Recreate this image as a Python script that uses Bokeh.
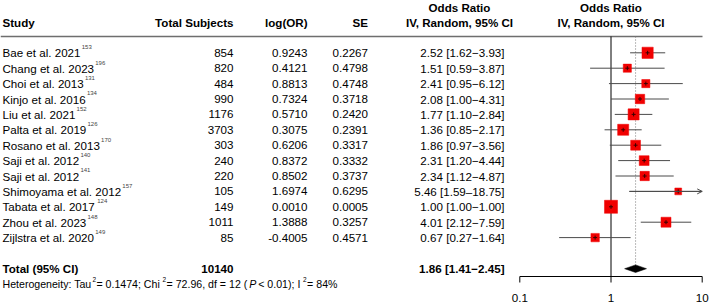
import numpy as np
from bokeh.plotting import figure
from bokeh.models import Range1d, LogScale, ColumnDataSource, Arrow, OpenHead
from bokeh.core.properties import value
from bokeh.embed import file_html
from bokeh.resources import INLINE

# ---------------- data ----------------
studies = ["Bae et al. 2021", "Chang et al. 2023", "Choi et al. 2013", "Kinjo et al. 2016",
           "Liu et al. 2021", "Palta et al. 2019", "Rosano et al. 2013", "Saji et al. 2012",
           "Saji et al. 2012", "Shimoyama et al. 2012", "Tabata et al. 2017", "Zhou et al. 2023",
           "Zijlstra et al. 2020"]
refs = ["153", "196", "131", "134", "152", "126", "170", "140", "141", "157", "124", "148", "149"]
subjects = [854, 820, 484, 990, 1176, 3703, 303, 240, 220, 105, 149, 1011, 85]
log_or = [0.9243, 0.4121, 0.8813, 0.7324, 0.5710, 0.3075, 0.6206, 0.8372, 0.8502, 1.6974,
          0.0010, 1.3888, -0.4005]
se = [0.2267, 0.4798, 0.4748, 0.3718, 0.2420, 0.2391, 0.3317, 0.3332, 0.3737, 0.6295,
      0.0005, 0.3257, 0.4571]
odds = [2.52, 1.51, 2.41, 2.08, 1.77, 1.36, 1.86, 2.31, 2.34, 5.46, 1.00, 4.01, 0.67]
ci_lo = [1.62, 0.59, 0.95, 1.00, 1.10, 0.85, 0.97, 1.20, 1.12, 1.59, 1.00, 2.12, 0.27]
ci_hi = [3.93, 3.87, 6.12, 4.31, 2.84, 2.17, 3.56, 4.44, 4.87, 18.75, 1.00, 7.59, 1.64]
weights = [10.0, 5.3, 5.3, 7.0, 9.7, 9.7, 7.7, 7.7, 6.9, 3.7, 13.5, 7.9, 5.6]

total_label = "Total (95% CI)"
total_n = 10140
total_or, total_lo, total_hi = 1.86, 1.41, 2.45
tau2, chi2, df_het, p_text, i2 = 0.1474, 72.96, 12, "< 0.01", 84

axis_ticks = [0.1, 1, 10]
tick_labels = ["0.1", "1", "10"]
null_value = 1

headers = ["Study", "Total Subjects", "log(OR)", "SE"]
or_header = ["Odds Ratio", "IV, Random, 95% CI"]

# ---------------- layout ----------------
W, H = 709, 303
FONT = value("Liberation Sans")
FS = "11.6px"
FSB = "11.6px"
X01, X10 = 519.3, 701.7                      # pixel positions of 0.1 and 10
PPD = (X10 - X01) / 2.0                       # pixels per decade
lo_log = np.log10(axis_ticks[0]) - X01 / PPD
hi_log = np.log10(axis_ticks[-1]) + (W - X10) / PPD

ROW0, PITCH = 52.3, 15.4
n = len(studies)
ys = ROW0 + PITCH * np.arange(n)
y_head1, y_head2, y_line = 6.8, 22.3, 36.0
y_total, y_het = 268.2, 283.4
y_axis, y_tick_end, y_ticklab = 276.0, 282.0, 297.6

# Arial / Liberation Sans advance widths (1/1000 em)
AW = {' ': 278, '%': 889, '(': 333, ')': 333, ',': 278, '-': 333, '.': 278, ':': 278, ';': 278,
      '<': 584, '=': 584, '>': 584, '[': 278, ']': 278}
for c in "0123456789":
    AW[c] = 556
for c, w in zip("ABCDEFGHIJKLMNOPQRSTUVWXYZ",
                [667, 667, 722, 722, 667, 611, 778, 722, 278, 500, 667, 556, 833, 722, 778, 667,
                 778, 722, 667, 611, 722, 667, 944, 667, 667, 611]):
    AW[c] = w
for c, w in zip("abcdefghijklmnopqrstuvwxyz",
                [556, 556, 500, 556, 556, 278, 556, 556, 222, 222, 500, 222, 833, 556, 556, 556,
                 556, 333, 500, 278, 556, 500, 722, 500, 500, 500]):
    AW[c] = w


def tw(s, px):
    return sum(AW.get(c, 556) for c in s) * px / 1000.0


p = figure(width=W, height=H, x_range=Range1d(0, W), y_range=Range1d(H, 0),
           output_backend="svg", toolbar_location=None, min_border=0,
           x_axis_location=None, y_axis_location=None)
p.extra_x_ranges = {"or": Range1d(10 ** lo_log, 10 ** hi_log)}
p.extra_x_scales = {"or": LogScale()}
p.grid.visible = False
p.outline_line_color = None
p.background_fill_color = "white"
p.border_fill_color = "white"


def txt(xs, yv, texts, align="left", bold=False, size=FS, color="black", italic=False, **kw):
    style = "bold" if bold else ("italic" if italic else "normal")
    src = ColumnDataSource(dict(x=list(xs), y=list(yv), t=list(texts)))
    p.text(x="x", y="y", text="t", source=src, text_font=FONT, text_font_size=size,
           text_font_style=style, text_align=align, text_baseline="middle",
           text_color=color, **kw)


# header
txt([2], [y_head2], [headers[0]], bold=True, size=FSB)
txt([233, 307, 367.5], [y_head2] * 3, headers[1:], align="right", bold=True, size=FSB)
txt([459, 459], [y_head1, y_head2], or_header, align="center", bold=True, size=FSB)
txt([610.5, 610.5], [y_head1, y_head2], or_header, align="center", bold=True, size=FSB)
p.segment(x0=[0], x1=[702], y0=[y_line], y1=[y_line], line_color="#6e6e6e", line_width=1.6)

# study rows
txt([2] * n, ys, studies)
sup_x = [2 + tw(s, 11.6) + 1.2 for s in studies]
txt(sup_x, ys - 5.6, refs, size="6px", color="#444444")
txt([233] * n, ys, [str(v) for v in subjects], align="right")
txt([307] * n, ys, [f"{v:.4f}" for v in log_or], align="right")
txt([367.5] * n, ys, [f"{v:.4f}" for v in se], align="right")
ci_txt = [f"{o:.2f} [{l:.2f}{'\u2212' if h < 10 else '\u2013'}{h:.2f}]"
          for o, l, h in zip(odds, ci_lo, ci_hi)]
txt([504] * n, ys, ci_txt, align="right")

# total row
txt([2], [y_total], [total_label], bold=True, size=FSB)
txt([233], [y_total], [str(total_n)], align="right", bold=True, size=FSB)
txt([504], [y_total], [f"{total_or:.2f} [{total_lo:.2f}\u2212{total_hi:.2f}]"], align="right",
    bold=True, size=FSB)

# heterogeneity line built from pieces
HP = 10.6
pieces = [("Heterogeneity: Tau", "n"), ("2", "s"), (f" = {tau2:.4f}; Chi", "n"), ("2", "s"),
          (f" = {chi2:.2f}, df = {df_het} (", "n"), ("P", "i"), (f" {p_text}); I", "n"),
          ("2", "s"), (f" = {i2}%", "n")]
cx = 2.0
for s, kind in pieces:
    if kind == "s":
        txt([cx - 0.2], [y_het - 4.4], [s], size="6.5px")
        cx += tw(s, 6.5) + 0.2
    elif kind == "i":
        txt([cx - 0.9], [y_het], [s], size=f"{HP}px", italic=True)
        cx += tw(s, HP) + 0.9
    else:
        txt([cx], [y_het], [s], size=f"{HP}px")
        cx += tw(s, HP)

# forest plot
axis_max = axis_ticks[-1]
seg_hi = [min(h, axis_max) for h in ci_hi]
p.segment(x0=[null_value], x1=[null_value], y0=[y_line], y1=[y_axis], x_range_name="or",
          line_color="black", line_width=1)
p.segment(x0=[total_or], x1=[total_or], y0=[y_line], y1=[y_total], x_range_name="or",
          line_color="#777777", line_width=1, line_dash="1 2")
p.segment(x0=ci_lo, x1=seg_hi, y0=ys, y1=ys, x_range_name="or", line_color="#4a4a4a",
          line_width=1)
for l, h, y in zip(ci_lo, ci_hi, ys):
    if h > axis_max:
        p.add_layout(Arrow(x_start=l, x_end=axis_max, y_start=y, y_end=y, x_range_name="or",
                           line_color="#4a4a4a", line_width=1,
                           end=OpenHead(size=5, line_color="#4a4a4a", line_width=1)))
sizes = [3.55 * np.sqrt(w) for w in weights]
p.scatter(x=odds, y=ys, size=sizes, marker="square", x_range_name="or",
          fill_color="#f00000", line_color="#f00000", line_width=0.5)
p.scatter(x=odds, y=ys, size=4, marker="cross", x_range_name="or",
          line_color="#3a0000", line_width=1)

# diamond
p.patch(x=[total_lo, total_or, total_hi, total_or], y=[y_total, y_total - 3.8, y_total, y_total + 3.8],
        x_range_name="or", fill_color="black", line_color="black", line_width=0.5)

# axis
p.segment(x0=[axis_ticks[0]], x1=[axis_ticks[-1]], y0=[y_axis], y1=[y_axis], x_range_name="or",
          line_color="black", line_width=1)
p.segment(x0=axis_ticks, x1=axis_ticks, y0=[y_axis] * 3, y1=[y_tick_end] * 3, x_range_name="or",
          line_color="black", line_width=1)
src_t = ColumnDataSource(dict(x=axis_ticks, y=[y_ticklab] * 3, t=tick_labels))
p.text(x="x", y="y", text="t", source=src_t, x_range_name="or", text_font=FONT,
       text_font_size=FS, text_align="center", text_baseline="middle", text_color="black")

open("out.html", "w").write(file_html(p, INLINE))
